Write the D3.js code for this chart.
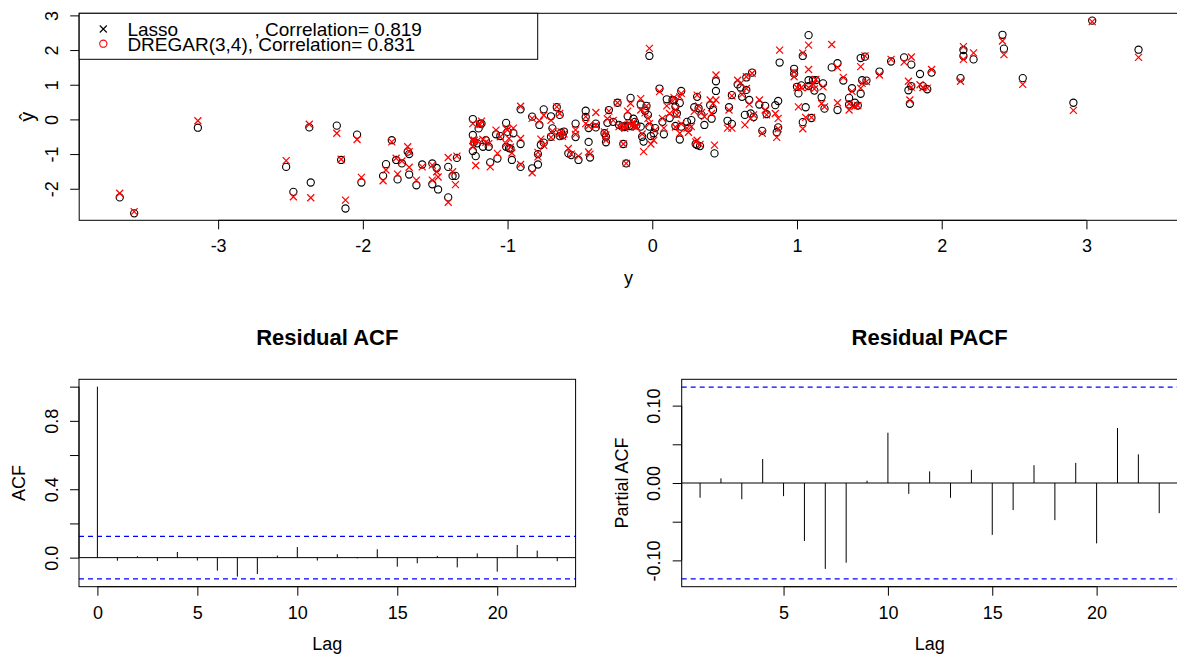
<!DOCTYPE html>
<html>
<head>
<meta charset="utf-8">
<script src="https://cdn.jsdelivr.net/npm/d3@7"></script>
<style>
  html, body { margin: 0; padding: 0; background: #fff; }
  svg { display: block; font-family: "Liberation Sans", Arial, Helvetica, sans-serif; }
</style>
</head>
<body>
<svg id="chart" width="1177" height="657"></svg>
<script>
// observed y (horizontal axis)
const yObserved = [
  -3.68, -3.58, -3.14, -2.53, -2.48, -2.37, -2.36, -2.18, -2.15, -2.12,
  -2.04, -2.01, -1.86, -1.84, -1.80, -1.76, -1.77, -1.73, -1.69, -1.68,
  -1.68, -1.63, -1.59, -1.52, -1.52, -1.49, -1.48, -1.41, -1.41, -1.38,
  -1.36, -1.35, -1.24, -1.24, -1.24, -1.22, -1.20, -1.19, -1.17, -1.13,
  -1.12, -1.08, -1.07, -1.05, -1.01, -1.01, -0.99, -0.97, -0.96, -0.91,
  -0.91, -0.91, -0.83, -0.83, -0.79, -0.79, -0.78, -0.77, -0.75, -0.75,
  -0.70, -0.69, -0.70, -0.66, -0.64, -0.64, -0.63, -0.61, -0.62, -0.58,
  -0.56, -0.53, -0.53, -0.51, -0.46, -0.46, -0.44, -0.44, -0.43, -0.39,
  -0.39, -0.33, -0.32, -0.32, -0.30, -0.31, -0.27, -0.24, -0.23, -0.21,
  -0.20, -0.19, -0.18, -0.17, -0.16, -0.15, -0.13, -0.12, -0.08, -0.08,
  -0.07, -0.06, -0.05, -0.04, -0.03, -0.02, -0.02, -0.01, 0.01, 0.02,
  0.05, 0.07, 0.08, 0.10, 0.12, 0.14, 0.15, 0.16, 0.16, 0.17,
  0.19, 0.19, 0.20, 0.20, 0.24, 0.25, 0.27, 0.29, 0.30, 0.31,
  0.31, 0.32, 0.33, 0.34, 0.36, 0.40, 0.41, 0.42, 0.43, 0.44,
  0.44, 0.52, 0.53, 0.55, 0.55, 0.59, 0.61, 0.62, 0.64, 0.65,
  0.65, 0.67, 0.68, 0.69, 0.70, 0.74, 0.76, 0.78, 0.79, 0.85,
  0.86, 0.87, 0.87, 0.88, 0.98, 0.98, 1.00, 1.01, 1.03, 1.04,
  1.04, 1.06, 1.08, 1.08, 1.08, 1.10, 1.11, 1.12, 1.13, 1.17,
  1.18, 1.19, 1.24, 1.28, 1.28, 1.32, 1.36, 1.36, 1.38, 1.40,
  1.42, 1.44, 1.44, 1.45, 1.47, 1.48, 1.57, 1.65, 1.74, 1.77,
  1.78, 1.79, 1.79, 1.85, 1.87, 1.90, 1.93, 2.13, 2.15, 2.15,
  2.22, 2.42, 2.43, 2.56, 2.91, 3.04, 3.36,
  -1.23, -1.18, -1.21, -1.15, -1.00, -0.98, -0.19, -0.14, -0.11
];
// Lasso fitted values (black circles)
const lassoFitted = [
  -2.25, -2.71, -0.24, -1.37, -2.09, -0.23, -1.82, -0.18, -1.17, -2.57,
  -0.44, -1.82, -1.63, -1.29, -0.60, -1.73, -1.17, -1.27, -0.93, -1.00,
  -1.59, -1.90, -1.30, -1.27, -1.87, -1.40, -2.02, -1.37, -2.25, -1.63,
  -1.63, -1.11, 0.01, -0.45, -0.91, -1.06, -0.26, -0.12, -0.79, -0.79,
  -1.24, -0.43, -1.13, -0.48, -0.10, -0.79, -0.83, -1.17, -0.40, 0.29,
  -0.71, -1.37, -1.41, 0.08, -1.30, -1.00, -0.16, -0.74, 0.29, -0.67,
  0.09, -0.26, -0.50, 0.35, 0.13, -0.48, -0.38, -0.35, -0.46, -0.98,
  -1.03, -0.12, -0.51, -1.17, 0.25, 0.07, -0.25, -0.65, -1.10, -0.12,
  -0.23, -0.40, -0.50, -0.66, 0.27, -0.10, -0.07, 0.48, -0.16, -0.21,
  -0.71, -0.19, -1.27, 0.09, -0.19, 0.62, 0.02, -0.07, -0.21, 0.43,
  -0.50, -0.64, 0.25, 0.39, 0.13, -0.21, 1.83, -0.48, -0.40, -0.25,
  0.89, -0.07, -0.43, 0.58, 0.04, 0.56, 0.55, -0.19, 0.37, 0.17,
  -0.58, 0.47, 0.82, -0.21, -0.07, -0.25, -0.02, 0.35, -0.71, 0.65,
  -0.74, 0.32, -0.77, 0.13, -0.16, 0.41, 0.02, 0.27, -0.98, 1.10,
  0.82, -0.04, 0.35, 0.70, -0.13, 1.01, 0.92, 0.65, 0.13, 0.85,
  1.21, 0.56, 0.17, 1.35, 0.07, 0.43, -0.33, 0.39, 0.15, 0.41,
  -0.37, 0.53, -0.23, 1.64, 1.46, 1.32, 0.94, 0.75, 0.98, 1.83,
  -0.08, 0.35, 2.43, 1.13, 0.96, 0.04, 1.13, 0.83, 1.13, 0.64,
  1.04, 0.31, 1.50, 1.62, 0.27, 1.12, 0.62, 0.43, 0.90, 0.48,
  0.40, 0.74, 1.77, 1.13, 1.81, 1.12, 1.38, 1.67, 1.79, 0.84,
  0.45, 1.58, 0.96, 1.31, 0.96, 0.87, 1.35, 1.19, 2.00, 1.83,
  1.73, 2.44, 2.04, 1.19, 0.48, 2.85, 2.01,
  -0.65, -0.12, -0.69, -0.60, -0.36, -0.84, -0.22, -0.20, -0.17
];
// DREGAR(3,4) fitted values (red crosses)
const dregarFitted = [
  -2.13, -2.66, -0.04, -1.19, -2.23, -0.14, -2.26, -0.40, -1.15, -2.33,
  -0.58, -1.67, -1.77, -1.46, -0.65, -1.58, -1.12, -1.20, -0.79, -0.93,
  -1.38, -1.75, -1.37, -1.32, -1.75, -1.51, -1.66, -1.10, -2.39, -1.51,
  -1.88, -1.06, -0.12, -0.60, -0.79, -1.33, -0.14, -0.15, -0.58, -0.70,
  -1.37, -0.31, -0.98, -0.50, -0.27, -0.70, -0.55, -0.97, -0.25, 0.38,
  -0.55, -1.30, -1.54, 0.03, -1.08, -0.95, -0.04, -0.57, 0.12, -0.75,
  -0.03, -0.34, -0.52, 0.36, 0.17, -0.42, -0.36, -0.42, -0.49, -0.84,
  -1.00, -0.30, -0.43, -1.06, 0.08, -0.12, -0.19, -0.94, -1.00, 0.20,
  -0.17, -0.36, -0.45, -0.60, 0.24, 0.02, -0.03, 0.48, -0.21, -0.16,
  -0.71, -0.26, -1.27, 0.24, -0.12, 0.46, -0.07, -0.21, 0.60, 0.27,
  -0.42, -0.93, 0.19, 0.39, 0.03, -0.12, 2.05, -0.71, -0.60, -0.31,
  0.80, 0.03, -0.25, 0.39, 0.17, 0.52, 0.63, -0.22, 0.27, 0.13,
  -0.40, 0.65, 0.75, -0.13, -0.25, -0.37, -0.21, 0.23, -0.65, 0.70,
  -0.60, 0.39, -0.72, 0.20, 0.08, 0.56, 0.17, 0.46, -0.74, 1.28,
  0.56, -0.25, 0.27, 0.68, -0.25, 1.13, 1.04, 0.72, -0.16, 0.89,
  1.23, 0.44, 0.03, 1.33, 0.13, 0.56, -0.40, 0.27, 0.13, 0.17,
  -0.52, 0.03, -0.27, 2.00, 1.37, 1.23, 0.92, 0.36, 0.92, 1.91,
  -0.27, 0.06, 2.14, 1.44, 0.92, 0.06, 1.02, 0.88, 1.15, 0.46,
  0.94, 0.36, 2.16, 1.50, 0.48, 1.21, 0.27, 0.45, 0.81, 0.38,
  0.40, 0.90, 1.52, 1.04, 1.83, 1.09, 1.28, 1.73, 1.65, 1.10,
  0.56, 1.80, 0.93, 1.00, 0.92, 0.90, 1.44, 1.10, 2.10, 1.73,
  1.92, 2.26, 1.87, 1.01, 0.26, 2.82, 1.79,
  -0.60, -0.05, -0.62, -0.66, -0.30, -0.80, -0.19, -0.17, -0.22
];

const legendNames = ["Lasso", "DREGAR(3,4)"];
const legendCorrelations = ["0.819", "0.831"];

const topXTicks = [-3, -2, -1, 0, 1, 2, 3];
const topYTicks = [-2, -1, 0, 1, 2, 3];

// residual ACF, lags 0..23
const acfLags = d3.range(0, 24);
const acfValues = [1.0, -0.018, 0.008, -0.020, 0.033, -0.017, -0.076, -0.111, -0.096, 0.012,
  0.062, -0.017, 0.020, -0.004, 0.049, -0.053, -0.033, 0.010, -0.057, 0.025,
  -0.082, 0.074, 0.041, -0.021];
const acfXTicks = [0, 5, 10, 15, 20];
const acfYTicks = [0, 0.2, 0.4, 0.6, 0.8, 1.0];
const acfYLabelled = [0, 0.4, 0.8];

// residual PACF, lags 1..23
const pacfLags = d3.range(1, 24);
const pacfValues = [-0.019, 0.006, -0.021, 0.031, -0.017, -0.075, -0.111, -0.103, 0.003, 0.065,
  -0.014, 0.015, -0.019, 0.017, -0.067, -0.035, 0.023, -0.048, 0.026, -0.078,
  0.071, 0.037, -0.039];
const pacfXTicks = [5, 10, 15, 20];
const pacfYTicks = [-0.10, -0.05, 0, 0.05, 0.10];
const pacfYLabelled = [-0.10, 0, 0.10];

const confLimit = 0.124;

const svg = d3.select("#chart");
const FONT = 18;

function bottomAxis(g, scale, ticks, fmt, y) {
  g.attr("transform", `translate(0,${y})`)
    .call(d3.axisBottom(scale).tickValues(ticks).tickFormat(fmt).tickSize(9).tickSizeOuter(0))
    .attr("font-size", FONT).attr("font-family", null);
  g.select(".domain")
    .attr("d", `M${scale(ticks[0])},0H${scale(ticks[ticks.length - 1])}`);
  g.selectAll("text").attr("y", 32).attr("dy", null).attr("fill", "#000");
}

function leftAxis(g, scale, ticks, fmt, x) {
  g.attr("transform", `translate(${x},0)`)
    .call(d3.axisLeft(scale).tickValues(ticks).tickFormat(fmt).tickSize(9).tickSizeOuter(0))
    .attr("font-size", FONT).attr("font-family", null);
  g.select(".domain")
    .attr("d", `M0,${scale(ticks[0])}V${scale(ticks[ticks.length - 1])}`);
  g.selectAll("text")
    .attr("x", null).attr("dy", null)
    .attr("text-anchor", "middle")
    .attr("fill", "#000")
    .attr("transform", "translate(-21.5,0) rotate(-90)");
}

function box(b) {
  svg.append("rect")
    .attr("x", b.left).attr("y", b.top)
    .attr("width", b.right - b.left).attr("height", b.bottom - b.top)
    .attr("fill", "none").attr("stroke", "#000").attr("stroke-width", 1);
}

// ---------- top: y-hat vs y ----------
const topBox = { left: 79.2, right: 1177.6, top: 13.3, bottom: 220.3 };
const xTop = d3.scaleLinear().domain([-3.96, 3.63]).range([topBox.left, topBox.right]);
const yTop = d3.scaleLinear().domain([-2.91, 3.06]).range([topBox.bottom, topBox.top]);

const pts = yObserved.map((v, i) => ({ y: v, lasso: lassoFitted[i], dregar: dregarFitted[i] }));

svg.append("g").selectAll("circle")
  .data(pts).join("circle")
  .attr("cx", d => xTop(d.y)).attr("cy", d => yTop(d.lasso))
  .attr("r", 3.6)
  .attr("fill", "none").attr("stroke", "#000").attr("stroke-width", 1.1);

const cross = "M-3.5,-3.5L3.5,3.5M-3.5,3.5L3.5,-3.5";
svg.append("g").selectAll("path")
  .data(pts).join("path")
  .attr("transform", d => `translate(${xTop(d.y)},${yTop(d.dregar)})`)
  .attr("d", cross)
  .attr("fill", "none").attr("stroke", "#ff0000").attr("stroke-width", 1.2);

box(topBox);
svg.append("g").call(g => bottomAxis(g, xTop, topXTicks, d => String(d), topBox.bottom));
svg.append("g").call(g => leftAxis(g, yTop, topYTicks, d => String(d), topBox.left));

svg.append("text").attr("x", (topBox.left + topBox.right) / 2).attr("y", 284)
  .attr("text-anchor", "middle").attr("font-size", FONT).text("y");
svg.append("text")
  .attr("transform", `translate(34,${(topBox.top + topBox.bottom) / 2}) rotate(-90)`)
  .attr("text-anchor", "middle").attr("font-size", 20).text("ŷ");

// legend
const LEG_FONT = 19;
const leg = svg.append("g");
leg.append("rect").attr("x", 79.2).attr("y", 13.3).attr("width", 458.5).attr("height", 46)
  .attr("fill", "#fff").attr("stroke", "#000").attr("stroke-width", 1);
leg.append("path").attr("transform", "translate(103.3,29)")
  .attr("d", cross).attr("stroke", "#000").attr("stroke-width", 1.1);
leg.append("circle").attr("cx", 103.3).attr("cy", 43.7).attr("r", 3.6)
  .attr("fill", "none").attr("stroke", "#ff0000").attr("stroke-width", 1.1);
leg.append("text").attr("x", 127.4).attr("y", 36).attr("font-size", LEG_FONT).text(legendNames[0]);
leg.append("text").attr("x", 254.5).attr("y", 36).attr("font-size", LEG_FONT)
  .text(", Correlation= " + legendCorrelations[0]);
leg.append("text").attr("x", 127.4).attr("y", 50.7).attr("font-size", LEG_FONT)
  .text(legendNames[1] + ", Correlation= " + legendCorrelations[1]);

// ---------- bottom left: residual ACF ----------
const acfBox = { left: 79, right: 575.6, top: 379.3, bottom: 586.7 };
const xAcf = d3.scaleLinear().domain([-0.92, 23.92]).range([acfBox.left, acfBox.right]);
const yAcf = d3.scaleLinear().domain([-0.17, 1.043]).range([acfBox.bottom, acfBox.top]);

svg.append("g").selectAll("line")
  .data(acfLags).join("line")
  .attr("x1", d => xAcf(d)).attr("x2", d => xAcf(d))
  .attr("y1", yAcf(0)).attr("y2", (d, i) => yAcf(acfValues[i]))
  .attr("stroke", "#000").attr("stroke-width", 1);
svg.append("line").attr("x1", acfBox.left).attr("x2", acfBox.right)
  .attr("y1", yAcf(0)).attr("y2", yAcf(0)).attr("stroke", "#000");
[confLimit, -confLimit].forEach(c => {
  svg.append("line").attr("x1", acfBox.left).attr("x2", acfBox.right)
    .attr("y1", yAcf(c)).attr("y2", yAcf(c))
    .attr("stroke", "#0000ff").attr("stroke-dasharray", "5,4").attr("stroke-width", 1.2);
});
box(acfBox);
svg.append("g").call(g => bottomAxis(g, xAcf, acfXTicks, d => String(d), acfBox.bottom));
svg.append("g").call(g => leftAxis(g, yAcf, acfYTicks,
  d => acfYLabelled.some(v => Math.abs(v - d) < 1e-9) ? d.toFixed(1) : "", acfBox.left));

svg.append("text").attr("x", (acfBox.left + acfBox.right) / 2).attr("y", 345)
  .attr("text-anchor", "middle").attr("font-size", 22).attr("font-weight", "bold").text("Residual ACF");
svg.append("text").attr("x", (acfBox.left + acfBox.right) / 2).attr("y", 649.5)
  .attr("text-anchor", "middle").attr("font-size", FONT).text("Lag");
svg.append("text")
  .attr("transform", `translate(25.3,${(acfBox.top + acfBox.bottom) / 2}) rotate(-90)`)
  .attr("text-anchor", "middle").attr("font-size", FONT).text("ACF");

// ---------- bottom right: residual PACF ----------
const pacfBox = { left: 681.7, right: 1177.6, top: 379.3, bottom: 586.7 };
const xPacf = d3.scaleLinear().domain([0.12, 23.88]).range([pacfBox.left, pacfBox.right]);
const yPacf = d3.scaleLinear().domain([-0.134, 0.134]).range([pacfBox.bottom, pacfBox.top]);

svg.append("g").selectAll("line")
  .data(pacfLags).join("line")
  .attr("x1", d => xPacf(d)).attr("x2", d => xPacf(d))
  .attr("y1", yPacf(0)).attr("y2", (d, i) => yPacf(pacfValues[i]))
  .attr("stroke", "#000").attr("stroke-width", 1);
svg.append("line").attr("x1", pacfBox.left).attr("x2", pacfBox.right)
  .attr("y1", yPacf(0)).attr("y2", yPacf(0)).attr("stroke", "#000");
[confLimit, -confLimit].forEach(c => {
  svg.append("line").attr("x1", pacfBox.left).attr("x2", pacfBox.right)
    .attr("y1", yPacf(c)).attr("y2", yPacf(c))
    .attr("stroke", "#0000ff").attr("stroke-dasharray", "5,4").attr("stroke-width", 1.2);
});
box(pacfBox);
svg.append("g").call(g => bottomAxis(g, xPacf, pacfXTicks, d => String(d), pacfBox.bottom));
svg.append("g").call(g => leftAxis(g, yPacf, pacfYTicks,
  d => pacfYLabelled.some(v => Math.abs(v - d) < 1e-9) ? d.toFixed(2) : "", pacfBox.left));

svg.append("text").attr("x", (pacfBox.left + pacfBox.right) / 2).attr("y", 345)
  .attr("text-anchor", "middle").attr("font-size", 22).attr("font-weight", "bold").text("Residual PACF");
svg.append("text").attr("x", (pacfBox.left + pacfBox.right) / 2).attr("y", 649.5)
  .attr("text-anchor", "middle").attr("font-size", FONT).text("Lag");
svg.append("text")
  .attr("transform", `translate(628.2,${(pacfBox.top + pacfBox.bottom) / 2}) rotate(-90)`)
  .attr("text-anchor", "middle").attr("font-size", FONT).text("Partial ACF");
</script>
</body>
</html>
